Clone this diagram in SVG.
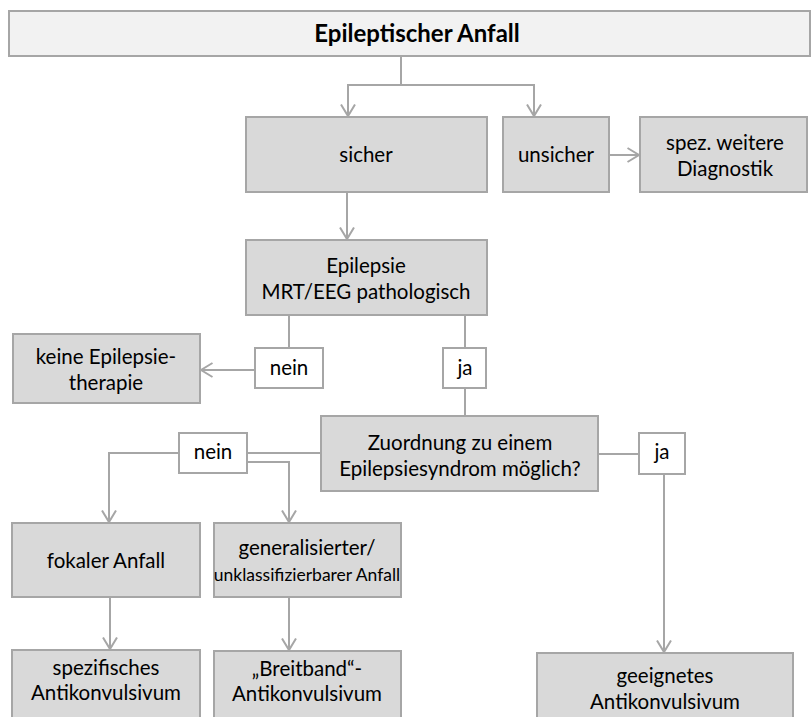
<svg xmlns="http://www.w3.org/2000/svg" width="811" height="717" viewBox="0 0 811 717">
<defs>
<style>
.box{fill:#d9d9d9;stroke:#a6a6a6;stroke-width:2}
.title{fill:#f2f2f2;stroke:#a6a6a6;stroke-width:2}
.lbl{fill:#ffffff;stroke:#a6a6a6;stroke-width:2}
.c{fill:none;stroke:#a6a6a6;stroke-width:2}
.a{marker-end:url(#arr)}
text{font-family:Lato,"Open Sans","Liberation Sans",sans-serif;font-size:20.5px;fill:#000;text-anchor:middle}
.tt{font-size:24px;font-weight:bold}
.sm{font-size:17.5px}
</style>
<marker id="arr" markerUnits="userSpaceOnUse" viewBox="0 0 14 16" refX="12.5" refY="8" markerWidth="14" markerHeight="16" orient="auto">
<path d="M1,1 L12.5,8 L1,15" fill="none" stroke="#a6a6a6" stroke-width="2"/>
</marker>
</defs>
<g id="connectors">
<path class="c" d="M401,56 V85 M347,85 H535"/>
<path class="c a" d="M348,85 V116"/>
<path class="c a" d="M534,85 V116"/>
<path class="c a" d="M609,155 H639"/>
<path class="c a" d="M347,192 V239"/>
<path class="c" d="M289,315 V348"/>
<path class="c a" d="M255,370 H201"/>
<path class="c" d="M465,315 V348"/>
<path class="c a" d="M465,388 V427"/>
<path class="c" d="M321,453 H247"/>
<path class="c a" d="M179,453 H109 V522"/>
<path class="c a" d="M247,462 H289 V522"/>
<path class="c" d="M598,454 H639"/>
<path class="c a" d="M664,474 V652"/>
<path class="c a" d="M110,597 V649"/>
<path class="c a" d="M289,597 V650"/>
</g>
<g id="n-anfall">
<rect class="title" x="9" y="11" width="801" height="45"/>
<text class="tt" x="417" y="42">Epileptischer Anfall</text>
</g>
<g id="n-sicher">
<rect class="box" x="246" y="117" width="241" height="75"/>
<text x="366" y="162">sicher</text>
</g>
<g id="n-unsicher">
<rect class="box" x="503" y="117" width="106" height="75"/>
<text x="556" y="162">unsicher</text>
</g>
<g id="n-diagnostik">
<rect class="box" x="640" y="117" width="167" height="75"/>
<text x="725" y="150">spez. weitere</text>
<text x="725" y="176">Diagnostik</text>
</g>
<g id="n-epilepsie">
<rect class="box" x="246" y="240" width="241" height="75"/>
<text x="366" y="273">Epilepsie</text>
<text x="366" y="299">MRT/EEG pathologisch</text>
</g>
<g id="l-nein1">
<rect class="lbl" x="255" y="348" width="68" height="40"/>
<text x="289" y="375">nein</text>
</g>
<g id="l-ja1">
<rect class="lbl" x="443" y="348" width="43" height="40"/>
<text x="465" y="375">ja</text>
</g>
<g id="n-keine">
<rect class="box" x="13" y="334" width="187" height="69"/>
<text x="106" y="364">keine Epilepsie-</text>
<text x="106" y="390">therapie</text>
</g>
<g id="n-zuordnung">
<rect class="box" x="321" y="416" width="277" height="75"/>
<text x="460" y="450">Zuordnung zu einem</text>
<text x="460" y="476">Epilepsiesyndrom möglich?</text>
</g>
<g id="l-nein2">
<rect class="lbl" x="179" y="433" width="68" height="40"/>
<text x="213" y="459">nein</text>
</g>
<g id="l-ja2">
<rect class="lbl" x="639" y="433" width="46" height="41"/>
<text x="662" y="459">ja</text>
</g>
<g id="n-fokal">
<rect class="box" x="12" y="523" width="188" height="74"/>
<text x="106" y="568">fokaler Anfall</text>
</g>
<g id="n-general">
<rect class="box" x="214" y="523" width="187" height="74"/>
<text x="307" y="555">generalisierter/</text>
<text class="sm" x="307" y="581">unklassifizierbarer Anfall</text>
</g>
<g id="n-spezifisch">
<rect class="box" x="12" y="650" width="188" height="80"/>
<text x="106" y="675">spezifisches</text>
<text x="106" y="700">Antikonvulsivum</text>
</g>
<g id="n-breitband">
<rect class="box" x="214" y="651" width="187" height="80"/>
<text x="307" y="676">„Breitband“-</text>
<text x="307" y="701">Antikonvulsivum</text>
</g>
<g id="n-geeignet">
<rect class="box" x="537" y="653" width="256" height="80"/>
<text x="665" y="683">geeignetes</text>
<text x="665" y="709">Antikonvulsivum</text>
</g>
</svg>
